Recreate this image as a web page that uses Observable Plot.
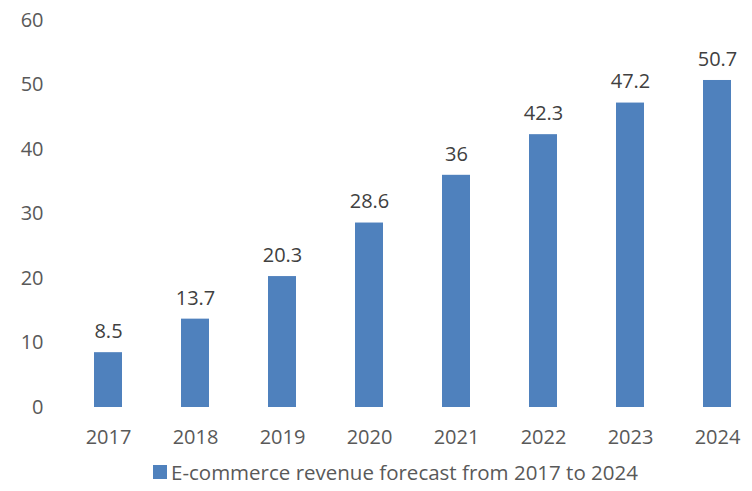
<!DOCTYPE html>
<html>
<head>
<meta charset="utf-8">
<script src="https://cdn.jsdelivr.net/npm/d3@7"></script>
<script src="https://cdn.jsdelivr.net/npm/@observablehq/plot@0.6"></script>
<style>
  html, body { margin: 0; padding: 0; background: #fff; }
  #chart { width: 752px; height: 491px; position: relative; overflow: hidden; font-family: "Open Sans", sans-serif; }
  #legend { position: absolute; left: 153px; top: 458px; display: flex; align-items: center; font-size: 20.5px; color: #595959; white-space: nowrap; }
  #legend .sw { width: 14px; height: 14px; background: #4f81bd; margin-right: 4px; }
</style>
</head>
<body>
<div id="chart"></div>
<script>
const years = ["2017", "2018", "2019", "2020", "2021", "2022", "2023", "2024"];
const revenue = [8.5, 13.7, 20.3, 28.6, 36, 42.3, 47.2, 50.7];
const yTicks = [0, 10, 20, 30, 40, 50, 60];
const seriesName = "E-commerce revenue forecast from 2017 to 2024";

const data = years.map((y, i) => ({year: y, value: revenue[i]}));

const plot = Plot.plot({
  width: 752,
  height: 455,
  marginTop: 20,
  marginBottom: 48,
  marginLeft: 64,
  marginRight: 0,
  style: {fontFamily: "Open Sans, sans-serif", fontSize: "20px", color: "#595959", background: "#fff"},
  x: {domain: years, range: [64.5, 761], paddingInner: 0.68, paddingOuter: 0.34, label: null},
  y: {domain: [0, 60], ticks: yTicks, label: null},
  marks: [
    Plot.ruleY(yTicks, {stroke: "#d9d9d9", strokeWidth: 1, x1: 64, x2: 752}),
    Plot.barY(data, {x: "year", y: "value", fill: "#4f81bd"}),
    Plot.text(data, {x: "year", y: "value", text: d => String(d.value), dy: -21, fill: "#404040", fontSize: 20}),
    Plot.axisX({tickSize: 0, tickPadding: 22, fontSize: 20}),
    Plot.axisY({ticks: yTicks, tickSize: 0, tickPadding: 21, fontSize: 20})
  ]
});
document.getElementById("chart").appendChild(plot);

const legend = document.createElement("div");
legend.id = "legend";
legend.innerHTML = `<span class="sw"></span><span></span>`;
legend.lastChild.textContent = seriesName;
document.getElementById("chart").appendChild(legend);
</script>
</body>
</html>
